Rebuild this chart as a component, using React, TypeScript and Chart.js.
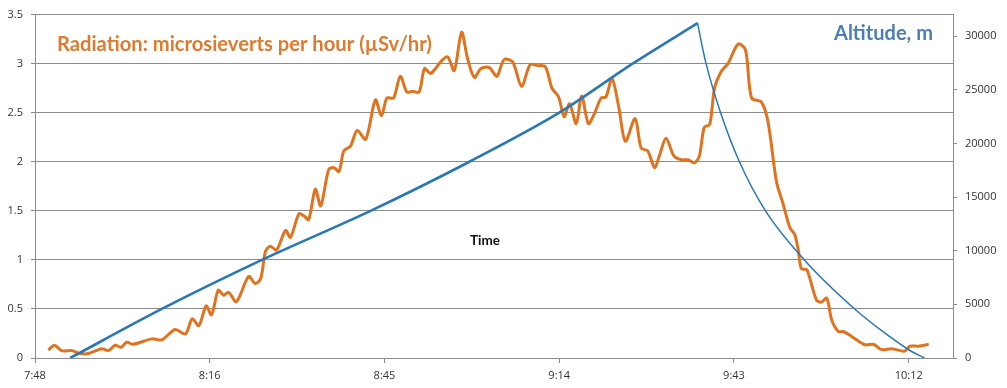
import { useEffect, useRef } from 'react';
import { Chart, registerables } from 'chart.js';

Chart.register(...registerables);

// X axis: minutes after midnight
const xMin = 468; // 7:48
const xMax = 619.3;
const xTickValues = [468, 496.8, 525.6, 554.4, 583.2, 612];
const xTickLabels = ['7:48', '8:16', '8:45', '9:14', '9:43', '10:12'];

const radTickValues = [0, 0.5, 1, 1.5, 2, 2.5, 3, 3.5];
const radTickLabels = ['0', '0.5', '1', '1.5', '2', '2.5', '3', '3.5'];
const altTickValues = [0, 5000, 10000, 15000, 20000, 25000, 30000];
const altTickLabels = ['0', '5000', '10000', '15000', '20000', '25000', '30000'];

// Radiation (µSv/hr)
const radTimes = [
  470.2, 471.2, 472.4, 474.1, 475.4, 476.8, 479.0, 480.1, 481.2, 482.2, 483.1, 484.2,
  487.3, 488.9, 491.1, 492.8, 493.9, 495.0, 496.2, 497.1, 498.2, 499.1, 499.9, 501.2,
  503.2, 504.3, 505.2, 506.0, 506.8, 507.8, 509.3, 510.1, 511.5, 512.3, 513.1, 514.2,
  515.1, 516.4, 517.3, 518.1, 518.9, 520.0, 521.1, 522.5, 524.1, 525.1, 526.0, 527.1,
  528.2, 529.3, 530.2, 531.3, 532.2, 533.2, 534.9, 536.0, 537.1, 538.3, 539.3, 540.4,
  541.5, 542.9, 544.1, 545.3, 546.7, 548.2, 549.6, 550.8, 552.1, 553.2, 554.3, 555.2,
  556.1, 557.2, 558.1, 559.2, 560.2, 561.3, 562.1, 563.1, 564.2, 565.3, 566.9, 567.9,
  569.0, 570.1, 570.9, 572.0, 573.3, 574.5, 575.6, 576.7, 577.5, 578.3, 579.2, 580.0,
  581.1, 582.2, 583.9, 585.1, 586.1, 587.7, 588.8, 590.2, 591.3, 592.4, 593.2, 593.8,
  594.3, 595.2, 596.8, 597.6, 598.5, 599.3, 600.4, 601.2, 602.6, 604.8, 606.2, 607.5,
  609.2, 611.3, 612.2, 613.6, 615.3,
];
const radValues = [
  0.08, 0.13, 0.075, 0.075, 0.045, 0.045, 0.095, 0.075, 0.13, 0.11, 0.16, 0.14,
  0.195, 0.185, 0.29, 0.245, 0.4, 0.33, 0.53, 0.44, 0.69, 0.64, 0.67, 0.575,
  0.83, 0.76, 0.81, 1.09, 1.14, 1.1, 1.3, 1.23, 1.47, 1.45, 1.41, 1.72,
  1.55, 1.92, 1.94, 1.9, 2.11, 2.16, 2.32, 2.23, 2.63, 2.47, 2.65, 2.65,
  2.87, 2.71, 2.72, 2.71, 2.95, 2.9, 3.02, 3.07, 2.93, 3.32, 3.05, 2.86,
  2.95, 2.96, 2.87, 3.04, 3.02, 2.77, 2.99, 2.98, 2.97, 2.75, 2.66, 2.46,
  2.59, 2.39, 2.67, 2.39, 2.49, 2.65, 2.66, 2.85, 2.56, 2.21, 2.44, 2.14,
  2.11, 1.94, 2.06, 2.24, 2.06, 2.02, 2.02, 1.99, 2.06, 2.35, 2.38, 2.75,
  2.92, 3.0, 3.2, 3.14, 2.65, 2.61, 2.41, 1.8, 1.57, 1.33, 1.26, 1.1,
  0.91, 0.9, 0.59, 0.57, 0.61, 0.39, 0.27, 0.27, 0.22, 0.135, 0.14, 0.085,
  0.095, 0.07, 0.12, 0.12, 0.14,
];

// Altitude (m), ascent and descent
const ascentTimes = [473.8, 488.9, 505.4, 523.3, 539.6, 554.4, 566.5, 577.2];
const ascentValues = [0, 4570, 9140, 13710, 18290, 22860, 27430, 31200];
const descentTimes = [577.2, 577.8, 578.6, 581.0, 584.1, 588.4, 594.8, 603.1, 608.1, 612.0, 614.6];
const descentValues = [31200, 29500, 27430, 22860, 18290, 13710, 9140, 4570, 2310, 770, 0];

const ORANGE = '#E2731E';
const BLUE = '#2878B8';
const GRID = '#8c8c8c';
const TICK_FONT = { family: '"Open Sans", sans-serif', size: 11 };
const TICK_COLOR = '#333333';

const annotations = [
  { text: 'Radiation: microsieverts per hour (µSv/hr)', x: 57, y: 51, width: 375, color: '#E07A2E' },
  { text: 'Altitude, m', x: 834, y: 39.5, width: 99, color: '#4A7EBB' },
  { text: 'Time', x: 470, y: 245, width: 30, color: '#111111' },
];

const textPlugin = {
  id: 'textPlugin',
  afterDraw(chart: any) {
    const ctx = chart.ctx as CanvasRenderingContext2D;
    ctx.save();
    ctx.textAlign = 'left';
    ctx.textBaseline = 'alphabetic';
    for (const a of annotations) {
      ctx.font = 'bold 20px Lato, sans-serif';
      const w = ctx.measureText(a.text).width;
      const size = (20 * a.width) / w;
      ctx.font = `bold ${size.toFixed(2)}px Lato, sans-serif`;
      ctx.fillStyle = a.color;
      ctx.fillText(a.text, a.x, a.y);
    }
    ctx.restore();
  },
};

const toPts = (xs: number[], ys: number[]) => xs.map((x, i) => ({ x, y: ys[i] }));

export default function App() {
  const ref = useRef<HTMLCanvasElement | null>(null);
  useEffect(() => {
    document.body.style.margin = '0';
    if (!ref.current) return;
    const chart = new Chart(ref.current, {
      type: 'line',
      data: {
        datasets: [
          {
            label: 'Altitude ascent',
            data: toPts(ascentTimes, ascentValues),
            yAxisID: 'y1',
            borderColor: BLUE,
            borderWidth: 2.6,
            pointRadius: 0,
            cubicInterpolationMode: 'monotone',
            order: 0,
          },
          {
            label: 'Altitude descent',
            data: toPts(descentTimes, descentValues),
            yAxisID: 'y1',
            borderColor: BLUE,
            borderWidth: 1.5,
            pointRadius: 0,
            cubicInterpolationMode: 'monotone',
            order: 0,
          },
          {
            label: 'Radiation',
            data: toPts(radTimes, radValues),
            yAxisID: 'y',
            borderColor: ORANGE,
            borderWidth: 3,
            pointRadius: 0,
            tension: 0.3,
            order: 1,
          },
        ],
      },
      options: {
        animation: false,
        responsive: false,
        events: [],
        layout: { padding: { top: 12, left: 0, right: 0, bottom: 0 } },
        plugins: { legend: { display: false }, tooltip: { enabled: false } },
        scales: {
          x: {
            type: 'linear',
            min: xMin,
            max: xMax,
            afterBuildTicks: (s: any) => {
              s.ticks = xTickValues.map((v) => ({ value: v }));
            },
            afterFit: (s: any) => {
              s.height = 30;
            },
            ticks: {
              autoSkip: false,
              maxRotation: 0,
              padding: 6,
              font: TICK_FONT,
              color: TICK_COLOR,
              callback: (_v: any, i: number) => xTickLabels[i],
            },
            grid: { drawOnChartArea: false, drawTicks: true, tickLength: 5, color: GRID },
            border: { color: GRID },
          },
          y: {
            type: 'linear',
            position: 'left',
            min: 0,
            max: 3.5,
            afterBuildTicks: (s: any) => {
              s.ticks = radTickValues.map((v) => ({ value: v }));
            },
            afterFit: (s: any) => {
              s.width = 35;
            },
            ticks: {
              padding: 8,
              font: TICK_FONT,
              color: TICK_COLOR,
              callback: (_v: any, i: number) => radTickLabels[i],
            },
            grid: { color: GRID, tickLength: 4 },
            border: { color: GRID },
          },
          y1: {
            type: 'linear',
            position: 'right',
            min: 0,
            max: 32000,
            afterBuildTicks: (s: any) => {
              s.ticks = altTickValues.map((v) => ({ value: v }));
            },
            afterFit: (s: any) => {
              s.width = 54;
            },
            ticks: {
              padding: 8,
              font: TICK_FONT,
              color: TICK_COLOR,
              callback: (_v: any, i: number) => altTickLabels[i],
            },
            grid: { drawOnChartArea: false, tickLength: 4, color: GRID },
            border: { color: GRID },
          },
        },
      },
      plugins: [textPlugin],
    } as any);
    return () => chart.destroy();
  }, []);
  return (
    <div style={{ width: 1007, height: 388, background: '#fff' }}>
      <canvas ref={ref} width={1007} height={388} style={{ display: 'block' }} />
    </div>
  );
}
